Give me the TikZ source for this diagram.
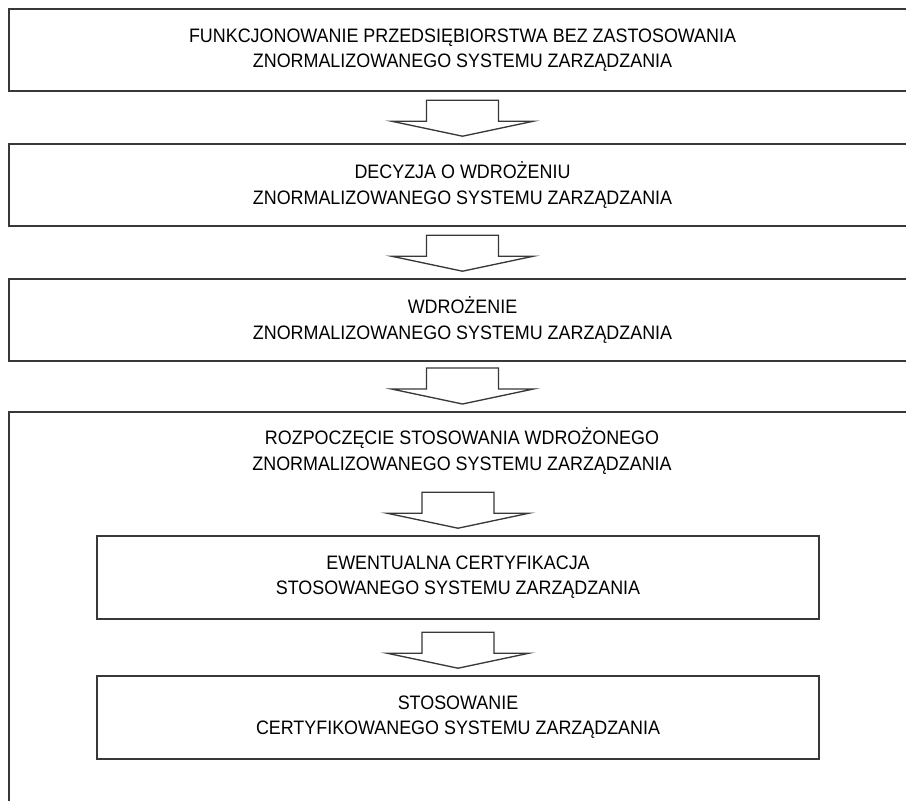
\documentclass[tikz,border=0pt]{standalone}
\usepackage{fontspec}
\setmainfont{Liberation Sans}[FakeStretch=0.92]
\usetikzlibrary{positioning}
\newcommand{\strzalka}[1]{%
  \draw[blok] ([shift={(-36,-43)}]#1.north) -- ++(72,0) -- ++(0,21) -- ++(35,0)
    -- ([shift={(0,-7)}]#1.north) -- ++(-71,-15) -- ++(35,0) -- cycle;}

\begin{document}
\begin{tikzpicture}[x=0.75pt,y={(0pt,-0.75pt)}]
                \tikzstyle{every node}=[font=\fontsize{14.6}{18.8}\selectfont, align=center, inner sep=0pt]
                \tikzstyle{pole}=[draw=black!78, line width=1.2pt, minimum width=680pt, minimum height=61.5pt]
                \tikzstyle{maly}=[draw=black!78, line width=1.2pt, minimum width=541.5pt, minimum height=62.25pt]
                \tikzstyle{blok}=[draw=black!78, line width=1pt, line join=miter]
                \useasboundingbox (0,0) rectangle (906,800);
                \clip (0,0) rectangle (906,800);

                \node[pole] (p1) at (462.5,50) {FUNKCJONOWANIE PRZEDSIĘBIORSTWA BEZ ZASTOSOWANIA\\ZNORMALIZOWANEGO SYSTEMU ZARZĄDZANIA};
                \node[pole] (p2) at (462.5,185) {DECYZJA O WDROŻENIU\\ZNORMALIZOWANEGO SYSTEMU ZARZĄDZANIA};
                \node[pole] (p3) at (462.5,320) {WDROŻENIE\\ZNORMALIZOWANEGO SYSTEMU ZARZĄDZANIA};
                \node[pole, minimum height=307pt, anchor=north] (p4) at (462.5,411) {};
                \node (t4) at (462,451) {ROZPOCZĘCIE STOSOWANIA WDROŻONEGO\\ZNORMALIZOWANEGO SYSTEMU ZARZĄDZANIA};
                \node[maly] (p5) at (458,577.5) {EWENTUALNA CERTYFIKACJA\\STOSOWANEGO SYSTEMU ZARZĄDZANIA};
                \node[maly] (p6) at (458,717.5) {STOSOWANIE\\CERTYFIKOWANEGO SYSTEMU ZARZĄDZANIA};

                \strzalka{p2}
                \strzalka{p3}
                \strzalka{p4}
                \strzalka{p5}
                \strzalka{p6}
            \end{tikzpicture}
\end{document}
